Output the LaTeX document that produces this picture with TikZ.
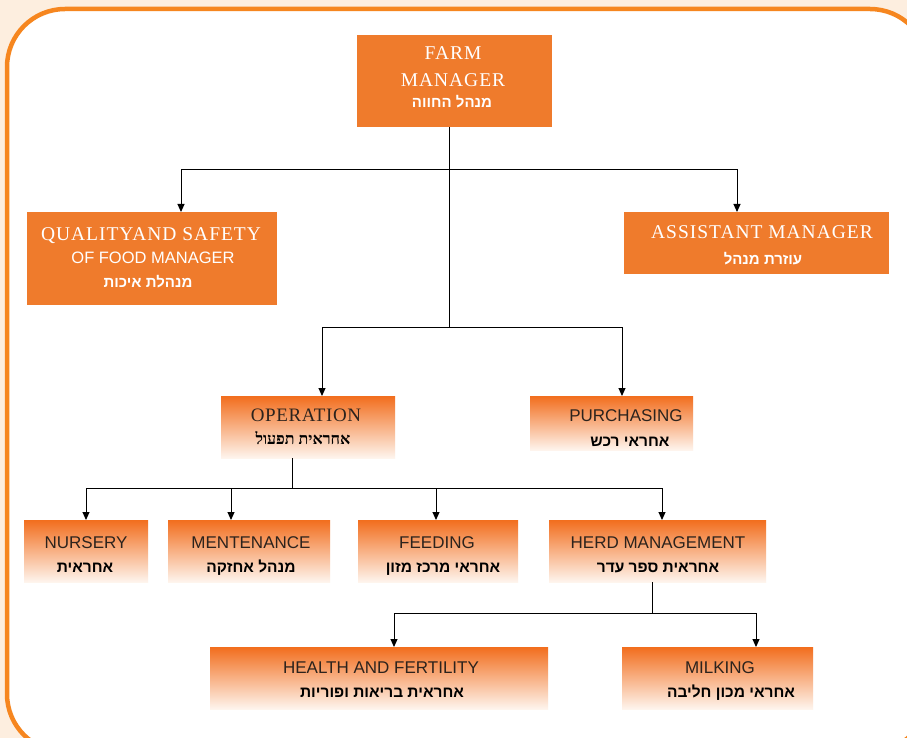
\documentclass[tikz,border=0pt]{standalone}
\usepackage{fontspec}
\setmainfont{Liberation Serif}
\newfontfamily\sansf{Liberation Sans}
\newfontfamily\hebsans[Script=Hebrew]{Liberation Sans}
\newfontfamily\hebserif[Script=Hebrew]{Liberation Serif}
\TeXXeTstate=1
\usetikzlibrary{arrows.meta}
\definecolor{bgpeach}{HTML}{FDEEDF}
\definecolor{frameor}{HTML}{F6861F}
\definecolor{boxor}{HTML}{EF7B2C}
\definecolor{gradtop}{HTML}{F26E1E}
\definecolor{gradmid}{HTML}{F8BB8E}
\definecolor{gradbot}{HTML}{FEF5EE}
\definecolor{darktext}{HTML}{2C231D}
\tikzset{
  solidbox/.style={rectangle, fill=boxor, inner sep=0, anchor=north west},
  gradbox/.style={rectangle, inner sep=0, anchor=north west, top color=gradtop, middle color=gradmid, bottom color=gradbot},
  wtitle/.style={text=white, anchor=base, inner sep=0, font=\addfontfeatures{LetterSpace=5}\fontsize{19.5}{19.5}\selectfont},
  wsans/.style={text=white, anchor=base, inner sep=0, font=\sansf\fontsize{16.5}{16.5}\selectfont},
  wheb/.style={text=white, anchor=base, inner sep=0, font=\hebsans\bfseries\fontsize{15}{15}\selectfont},
  dserif/.style={text=darktext, anchor=base, inner sep=0, font=\addfontfeatures{LetterSpace=3}\fontsize{19}{19}\selectfont},
  dsans/.style={text=darktext, anchor=base, inner sep=0, font=\sansf\fontsize{17}{17}\selectfont},
  dheb/.style={text=black, anchor=base, inner sep=0, font=\hebsans\bfseries\fontsize{15.5}{15.5}\selectfont},
  dhebserif/.style={text=black, anchor=base, inner sep=0, font=\hebserif\bfseries\fontsize{16}{16}\selectfont},
  conn/.style={draw=black, line width=1pt},
  arr/.style={conn, -{Triangle[length=8pt,width=7pt]}},
}
\begin{document}
\begin{tikzpicture}[x=1pt,y=-1pt]
\useasboundingbox (0,0) rectangle (907,738);
\fill[bgpeach] (0,0) rectangle (907,738);
\begin{scope}
\clip (0,0) rectangle (907,738);
\draw[frameor, line width=4.5pt, fill=white, rounded corners=58pt] (7,9) rectangle (928,752);
\end{scope}

% boxes
\node[solidbox, minimum width=195pt, minimum height=92pt] (farm) at (357,35) {};
\node[solidbox, minimum width=250pt, minimum height=93pt] (quality) at (27,212) {};
\node[solidbox, minimum width=265pt, minimum height=62pt] (assist) at (624,212) {};
\node[gradbox, minimum width=174pt, minimum height=62pt] (oper) at (221,396) {};
\node[gradbox, minimum width=163pt, minimum height=54pt] (purch) at (530,396) {};
\node[gradbox, minimum width=124pt, minimum height=62pt] (nursery) at (24,520) {};
\node[gradbox, minimum width=162pt, minimum height=62pt] (mente) at (168,520) {};
\node[gradbox, minimum width=160pt, minimum height=62pt] (feed) at (358,520) {};
\node[gradbox, minimum width=217pt, minimum height=62pt] (herd) at (549,520) {};
\node[gradbox, minimum width=338pt, minimum height=62pt] (health) at (210,647) {};
\node[gradbox, minimum width=191pt, minimum height=62pt] (milk) at (622,647) {};

% texts
\node[wtitle] (farmA) at (453,60) {FARM};
\node[wtitle] (farmB) at (453,87) {MANAGER};
\node[wheb] (farmC) at (452,108) {\beginR מנהל החווה\endR};

\node[wtitle] (qualA) at (151,240) {QUALITYAND SAFETY};
\node[wsans] (qualB) at (153,263) {OF FOOD MANAGER};
\node[wheb] (qualC) at (148,287) {\beginR מנהלת איכות\endR};

\node[wtitle] (assA) at (762,238) {ASSISTANT MANAGER};
\node[wheb] (assB) at (763,264) {\beginR עוזרת מנהל\endR};

\node[dserif] (operA) at (306,421) {OPERATION};
\node[dhebserif] (operB) at (303,444) {\beginR אחראית תפעול\endR};

\node[dsans] (purA) at (626,421) {PURCHASING};
\node[dheb] (purB) at (630,446) {\beginR אחראי רכש\endR};

\node[dsans] (nurA) at (86,548) {NURSERY};
\node[dheb] (nurB) at (85,572) {\beginR אחראית\endR};

\node[dsans] (menA) at (251,548) {MENTENANCE};
\node[dheb] (menB) at (251,572) {\beginR מנהל אחזקה\endR};

\node[dsans] (feeA) at (437,548) {FEEDING};
\node[dheb] (feeB) at (443,572) {\beginR אחראי מרכז מזון\endR};

\node[dsans] (herA) at (658,548) {HERD MANAGEMENT};
\node[dheb] (herB) at (658,572) {\beginR אחראית ספר עדר\endR};

\node[dsans] (heaA) at (381,673) {HEALTH AND FERTILITY};
\node[dheb] (heaB) at (382,697) {\beginR אחראית בריאות ופוריות\endR};

\node[dsans] (milA) at (720,673) {MILKING};
\node[dheb] (milB) at (731,697) {\beginR אחראי מכון חליבה\endR};

% connectors
\coordinate (ju1) at (449,170);
\coordinate (ju2) at (449,327);
\coordinate (qx) at (181,0);
\coordinate (ax) at (737,0);
\coordinate (ox) at (322,0);
\coordinate (px) at (622,0);
\draw[conn] (farm.south -| ju1) -- (ju2);
\draw[arr] (ju1) -| (quality.north -| qx);
\draw[arr] (ju1) -| (assist.north -| ax);
\draw[arr] (ju2) -| (oper.north -| ox);
\draw[arr] (ju2) -| (purch.north -| px);

\coordinate (ju3) at (292,488);
\coordinate (nx) at (86,0);
\coordinate (mx) at (231,0);
\coordinate (fx) at (436,0);
\coordinate (hx) at (662,0);
\draw[conn] (oper.south -| ju3) -- (ju3);
\draw[arr] (ju3) -| (nursery.north -| nx);
\draw[arr] (ju3) -| (mente.north -| mx);
\draw[arr] (ju3) -| (feed.north -| fx);
\draw[arr] (ju3) -| (herd.north -| hx);

\coordinate (ju4) at (652,613);
\coordinate (hfx) at (394,0);
\coordinate (mkx) at (756,0);
\draw[conn] (herd.south -| ju4) -- (ju4);
\draw[arr] (ju4) -| (health.north -| hfx);
\draw[arr] (ju4) -| (milk.north -| mkx);
\end{tikzpicture}
\end{document}
